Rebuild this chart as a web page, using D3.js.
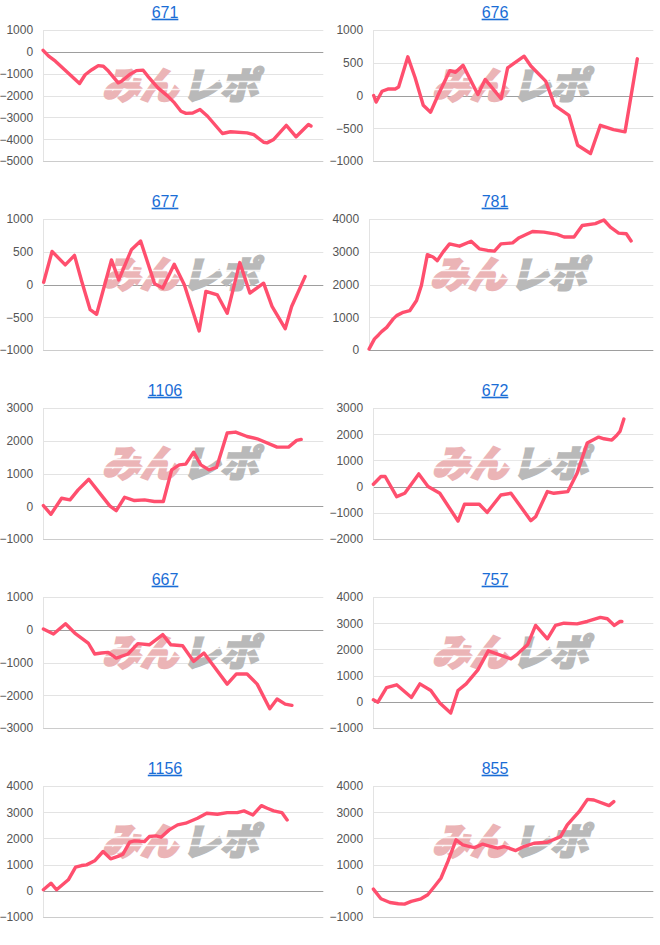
<!DOCTYPE html>
<html><head><meta charset="utf-8">
<script src="https://cdn.jsdelivr.net/npm/d3@7"></script>
<style>html,body{margin:0;padding:0;background:#fff;}svg{display:block;}</style>
</head><body>
<svg id="c" width="660" height="945"></svg>
<script>
// Titles (machine numbers)
const titles = ["671", "676", "677", "781", "1106", "672", "667", "757", "1156", "855"];
// y-axis domains and tick step per chart
const yDomains = [[-5000,1000],[-1000,1000],[-1000,1000],[0,4000],[-1000,3000],[-2000,3000],[-3000,1000],[-1000,4000],[-1000,4000],[-1000,4000]];
const yTickSteps = [1000,500,500,1000,1000,1000,1000,1000,1000,1000];
// series: [progress (% of x axis), difference]
const s671 = [[0,70],[2,-200],[4.4,-430],[13,-1450],[15,-1050],[17.4,-820],[19.7,-630],[21.5,-660],[23.3,-880],[26.8,-1420],[28,-1350],[30.9,-1040],[33.3,-860],[35.7,-840],[37.4,-1120],[41,-1650],[44.5,-2030],[46.9,-2340],[49.2,-2720],[51,-2820],[53.4,-2800],[56,-2640],[58.7,-2950],[64,-3740],[66.9,-3660],[72.8,-3710],[75.2,-3790],[78.7,-4140],[79.9,-4170],[82.3,-4010],[86.8,-3370],[90.3,-3890],[94.7,-3330],[95.6,-3400]];
const s676 = [[0.2,0],[1.1,-100],[3.2,65],[5.5,100],[7.9,100],[9.1,130],[12.4,590],[15,270],[17.9,-150],[20.5,-255],[23.3,15],[27.4,380],[29.4,355],[32.1,460],[37.4,15],[40,245],[45.7,-50],[48,420],[53.9,600],[56.3,450],[61.6,220],[64.8,-150],[69.9,-305],[73,-760],[77.6,-885],[81.1,-455],[85.8,-520],[89.9,-555],[94.3,560]];
const s677 = [[0.2,35],[3.2,505],[7.9,300],[11.2,445],[13.8,45],[16.8,-385],[19.1,-455],[24.4,375],[27,70],[31.5,530],[34.8,665],[39.8,10],[42.7,-55],[46.8,310],[50.4,-5],[55.7,-710],[58.1,-105],[62.2,-160],[65.7,-440],[70.2,335],[73.8,-130],[78.7,20],[81.7,-335],[86.4,-675],[88.7,-335],[93.5,120]];
const s781 = [[0,30],[0.9,180],[1.9,340],[3.3,460],[4.4,560],[6.2,690],[8.5,950],[9.7,1050],[12,1150],[14.3,1200],[16.7,1510],[18.4,1970],[20.5,2910],[22.5,2840],[24,2730],[26,2990],[28.3,3240],[31.8,3170],[35.9,3320],[38.8,3090],[41.7,3040],[44.1,3020],[46.4,3240],[50.5,3270],[52.8,3430],[57.5,3620],[61.5,3600],[66.2,3530],[68.6,3450],[72.1,3450],[75,3800],[79.6,3860],[82.6,3970],[84.9,3750],[87.8,3570],[90.5,3550],[92.2,3330]];
const s1106 = [[0.1,20],[2.8,-245],[6.6,245],[9.6,195],[12.5,500],[16.3,825],[20.2,400],[23.8,10],[26.1,-135],[29.1,275],[32.6,175],[36.2,195],[39.7,145],[42.9,145],[45.9,1110],[48.6,1265],[50.9,1285],[53.7,1650],[56.3,1265],[59.2,1110],[61.9,1185],[65.7,2235],[68.7,2265],[72.8,2130],[76.4,2060],[83.5,1805],[87.6,1805],[90.5,2010],[92.1,2040]];
const s672 = [[0.1,90],[2.8,385],[4.3,385],[8.4,-385],[11.3,-255],[16.3,485],[19.6,0],[23.8,-255],[30.3,-1315],[32.6,-675],[37.9,-675],[40.7,-985],[45.6,-320],[49.2,-255],[56.3,-1300],[58,-1150],[62.2,-190],[64.5,-255],[69.5,-190],[72.8,510],[76.4,1660],[80.5,1890],[82.4,1825],[85.2,1775],[86.9,1950],[88.1,2105],[89.5,2580]];
const s667 = [[0.1,20],[3.7,-130],[8,185],[11.3,-100],[16.1,-405],[18.4,-740],[20.8,-710],[23.2,-690],[26.1,-865],[30.3,-740],[33.8,-425],[37.9,-460],[42.7,-150],[45.6,-460],[49.8,-490],[53.7,-965],[57.4,-710],[61,-1120],[65.7,-1660],[69,-1350],[72.8,-1350],[76.4,-1660],[80.9,-2410],[83.5,-2115],[86.4,-2270],[88.8,-2310]];
const s757 = [[0.1,75],[1.7,-15],[4.8,545],[8.4,650],[13.7,165],[16.7,685],[20.6,430],[23.8,-50],[27.7,-430],[30.3,430],[33.2,685],[37.4,1220],[41.1,1945],[49.2,1640],[51.5,1820],[55.1,2175],[58,2915],[62.2,2405],[65.1,2915],[68.1,3000],[72.8,2975],[76.4,3065],[81.1,3220],[83.6,3170],[86.1,2915],[88.1,3065],[88.8,3065]];
const s1156 = [[0.1,40],[2.8,290],[4.8,40],[9,420],[11.6,900],[13.7,965],[15.5,990],[18.4,1145],[21.4,1500],[24.1,1220],[26.7,1310],[28.5,1400],[30.9,1855],[32.6,1905],[36.2,1880],[37.9,2070],[40.3,2095],[42.1,2045],[45,2325],[48,2515],[50.9,2580],[55.1,2770],[58.4,2960],[62.2,2920],[65.7,2985],[69.3,2985],[71.7,3050],[74.9,2895],[77.9,3250],[80,3150],[82.3,3050],[85.2,2985],[87.1,2705]];
const s855 = [[0.1,65],[2.8,-305],[6,-445],[9,-495],[11.2,-510],[13.6,-405],[17.1,-305],[19.5,-150],[21.9,165],[24.2,480],[26.7,1120],[29.6,1945],[32,1750],[36.2,1650],[39.1,1780],[40.9,1725],[44.4,1625],[46.8,1690],[50.9,1535],[53.8,1690],[57.4,1815],[62.2,1855],[66.9,2070],[69.3,2515],[73.5,3020],[76.5,3490],[78.8,3465],[84.2,3250],[85.9,3405]];
const seriesList = [s671, s676, s677, s781, s1106, s672, s667, s757, s1156, s855];

const svg = d3.select("#c");
const panelW = 330, rowStep = 189, firstTop = 30, plotH = 131, plotRight = 323.3;
const lineColor = "#ff4f6e";
const fontUI = "Arial, 'Liberation Sans', sans-serif";

// measure label widths
const meas = svg.append("text").attr("font-family", fontUI).attr("font-size", 12);
function textW(s){ meas.text(s); return meas.node().getComputedTextLength(); }

titles.forEach((t, i) => {
  const col = i % 2, row = Math.floor(i / 2);
  const ox = col * panelW, top = firstTop + row * rowStep;
  const g = svg.append("g").attr("transform", `translate(${ox},0)`);
  const [y0, y1] = yDomains[i];
  const step = yTickSteps[i];
  const ticks = d3.range(y0, y1 + step / 2, step);
  const maxW = d3.max(ticks, v => textW(String(v)));
  const left = maxW + 12.4;
  const x = d3.scaleLinear().domain([0, 100]).range([left, plotRight]);
  const y = d3.scaleLinear().domain([y0, y1]).range([top + plotH, top]);

  // gridlines
  g.append("g").selectAll("line").data(ticks).join("line")
    .attr("x1", left).attr("x2", plotRight)
    .attr("y1", d => Math.round(y(d)) + 0.5).attr("y2", d => Math.round(y(d)) + 0.5)
    .attr("stroke", d => d === 0 ? "#9e9e9e" : (d === y0 ? "#cccccc" : "#e3e3e3"))
    .attr("stroke-width", 1);
  // vertical baseline
  g.append("line").attr("x1", Math.round(left) + 0.5).attr("x2", Math.round(left) + 0.5)
    .attr("y1", top).attr("y2", top + plotH).attr("stroke", "#e3e3e3");

  // y labels via axis
  const ax = g.append("g").attr("transform", `translate(${left - 10},0)`)
    .call(d3.axisLeft(y).tickValues(ticks).tickSize(0).tickPadding(0).tickFormat(d3.format("d")));
  ax.select(".domain").remove();
  ax.selectAll("text").attr("font-family", fontUI)
    .attr("font-size", 12).attr("fill", "#555");

  // watermark
  const cx = (left + plotRight) / 2, cy = top + plotH / 2 - 10;
  const wm = g.append("g").attr("transform", `translate(${cx},${cy}) skewX(-14)`);
  wm.append("text").text("みん").attr("x", -78).attr("y", 13)
    .attr("font-family", "'Noto Sans CJK JP', sans-serif").attr("font-weight", 900)
    .attr("font-size", 37).attr("fill", "#ebb4b6").attr("stroke", "#ebb4b6").attr("stroke-width", 2.2)
    .attr("stroke-linejoin", "miter")
    .attr("textLength", 76).attr("lengthAdjust", "spacingAndGlyphs");
  wm.append("text").text("レポ").attr("x", 2).attr("y", 13)
    .attr("font-family", "'Noto Sans CJK JP', sans-serif").attr("font-weight", 900)
    .attr("font-size", 37).attr("fill", "#b9b9b9").attr("stroke", "#b9b9b9").attr("stroke-width", 2.2)
    .attr("stroke-linejoin", "miter")
    .attr("textLength", 76).attr("lengthAdjust", "spacingAndGlyphs");
  [-4, 4].forEach(dy => wm.append("line").attr("x1", -85).attr("x2", 85)
    .attr("y1", dy).attr("y2", dy).attr("stroke", "#fff").attr("stroke-width", 1.3).attr("opacity", 0.85));

  // line
  const line = d3.line().x(d => x(d[0])).y(d => y(d[1]));
  g.append("path").datum(seriesList[i]).attr("d", line)
    .attr("fill", "none").attr("stroke", lineColor).attr("stroke-width", 3.4)
    .attr("stroke-linejoin", "round").attr("stroke-linecap", "round");

  // title
  g.append("text").text(t).attr("x", panelW / 2).attr("y", top - 12.3)
    .attr("text-anchor", "middle").attr("font-family", fontUI)
    .attr("font-size", 16).attr("fill", "#1a6dd6").attr("text-decoration", "underline");
});
meas.remove();
</script>
</body></html>
